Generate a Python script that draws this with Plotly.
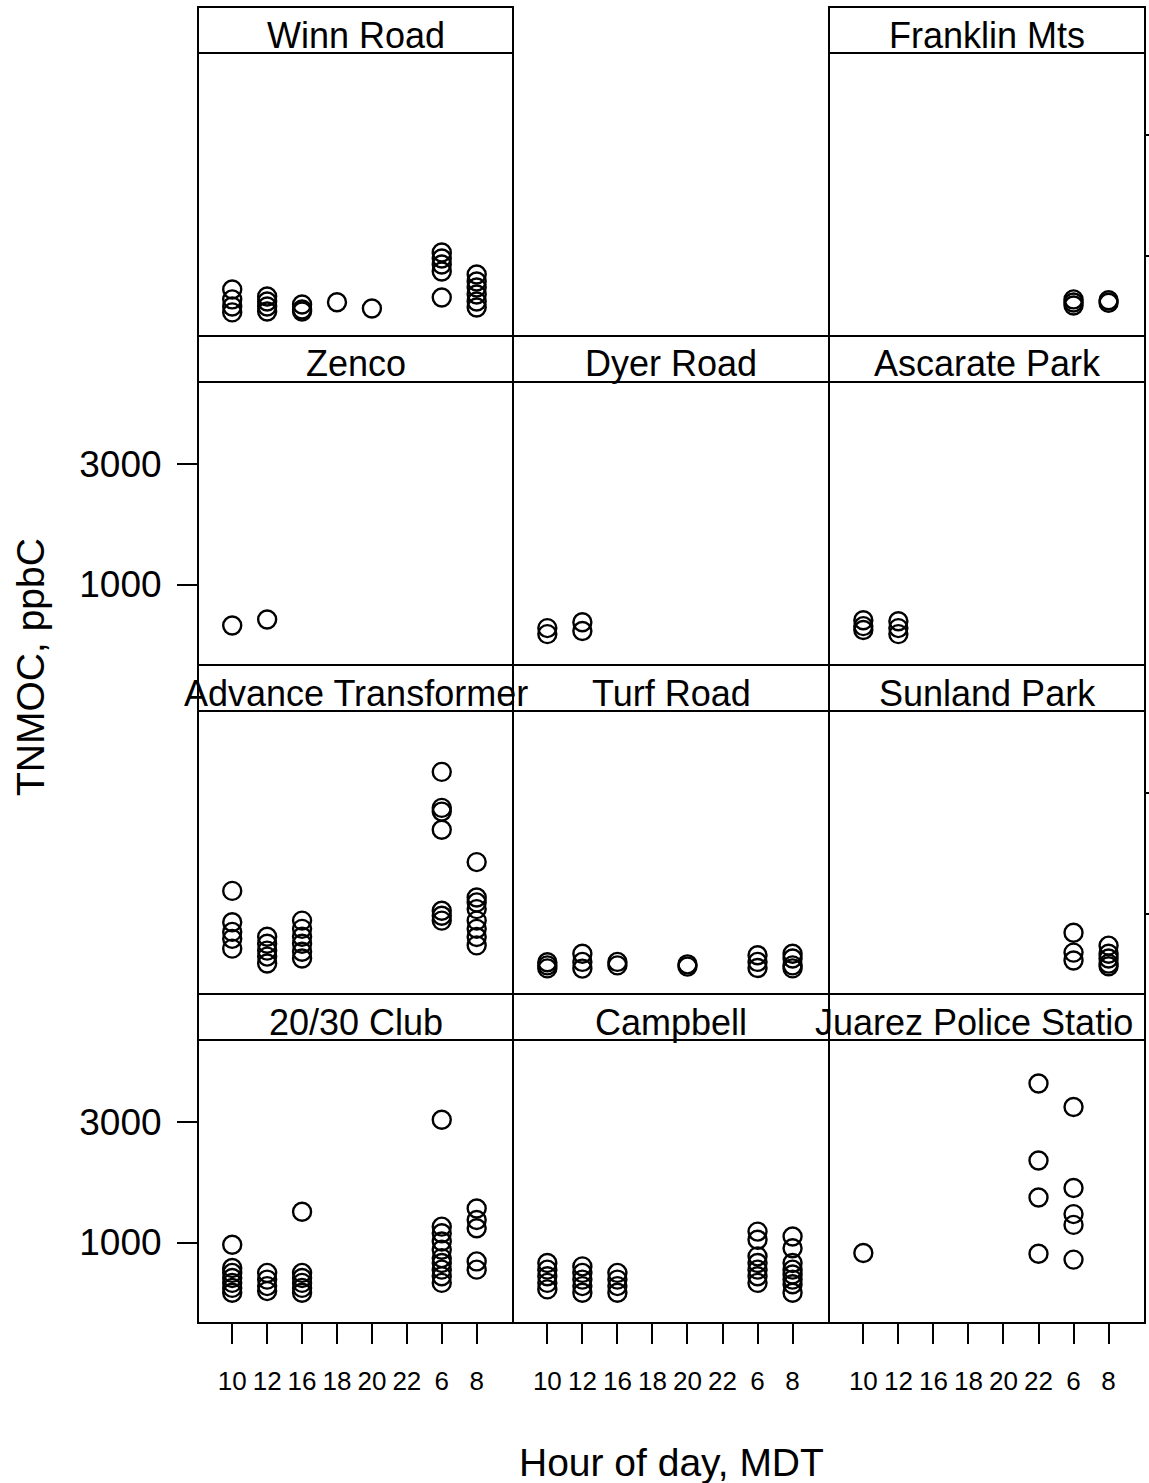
import math
import plotly.graph_objects as go

# Sampling hours (categorical, in run order) and y-axis ticks
HOURS = ["10", "12", "16", "18", "20", "22", "6", "8"]
Y_TICKS = [1000, 3000]

# TNMOC (ppbC) by hour of day for each site
winn_road = {"10": [733, 669, 627, 594], "12": [687, 656, 627, 599], "16": [639, 610, 599],
             "18": [652], "20": [616], "6": [1028, 973, 921, 864, 681],
             "8": [840, 788, 746, 700, 656, 621]}
franklin_mts = {"6": [669, 650, 633], "8": [664, 649]}
zenco = {"10": [687], "12": [726]}
dyer_road = {"10": [671, 635], "12": [708, 653]}
ascarate_park = {"10": [721, 683, 659], "12": [714, 671, 635]}
advance_transformer = {"10": [1230, 923, 845, 793, 725], "12": [808, 758, 712, 674, 633],
                       "16": [937, 869, 808, 758, 705, 662],
                       "6": [3656, 2630, 2542, 2153, 1026, 980, 937],
                       "8": [1601, 1158, 1107, 1041, 937, 869, 806, 747]}
turf_road = {"10": [640, 622, 605], "12": [692, 642, 604], "16": [642, 622], "20": [628, 615],
             "6": [682, 642, 607], "8": [692, 662, 622, 605]}
sunland_park = {"6": [838, 699, 650], "8": [745, 692, 662, 632, 617]}
club_20_30 = {"10": [979, 792, 757, 723, 691, 660, 631], "12": [757, 712, 671, 641],
              "16": [1325, 757, 723, 691, 660, 631],
              "6": [3074, 1156, 1088, 1009, 936, 867, 829, 780, 734, 691],
              "8": [1365, 1229, 1139, 841, 780]}
campbell = {"10": [829, 780, 734, 691, 651], "12": [804, 757, 712, 671, 631],
            "16": [757, 712, 671, 631], "6": [1105, 1025, 881, 829, 780, 734, 691],
            "8": [1056, 949, 829, 780, 746, 712, 682, 631]}
juarez_police_station = {"10": [908], "22": [4285, 2118, 1509, 902],
                         "6": [3458, 1648, 1297, 1175, 855]}

# (strip label, data, row, column) -- row 1 is the top row
PANELS = [
    ("Winn Road", winn_road, 1, 1),
    ("Franklin Mts", franklin_mts, 1, 3),
    ("Zenco", zenco, 2, 1),
    ("Dyer Road", dyer_road, 2, 2),
    ("Ascarate Park", ascarate_park, 2, 3),
    ("Advance Transformer", advance_transformer, 3, 1),
    ("Turf Road", turf_road, 3, 2),
    ("Sunland Park", sunland_park, 3, 3),
    ("20/30 Club", club_20_30, 4, 1),
    ("Campbell", campbell, 4, 2),
    ("Juarez Police Station", juarez_police_station, 4, 3),
]

# Page geometry (pixels)
W, H = 1149, 1483
COL_X = [(198, 513), (513, 829), (829, 1145)]
ROW_TOP = 7
ROW_PITCH = 329
STRIP_H = 46
FONT = "Liberation Sans, Arial, sans-serif"
Y_RANGE = [2.68, 3.805]          # log10 of roughly 480 .. 6400 ppbC
X_RANGE = [0.02, 9.04]


def fx(px):
    return px / W


def fy(py):
    return 1 - py / H


fig = go.Figure()
layout = {}
shapes = []
annotations = []

for i, (label, data, row, col) in enumerate(PANELS, start=1):
    x0, x1 = COL_X[col - 1]
    strip_top = ROW_TOP + (row - 1) * ROW_PITCH
    panel_top = strip_top + STRIP_H
    panel_bot = strip_top + ROW_PITCH

    xs, ys = [], []
    for h, vals in data.items():
        pos = HOURS.index(h) + 1
        for v in vals:
            xs.append(pos)
            ys.append(v)

    xname = "x" if i == 1 else f"x{i}"
    yname = "y" if i == 1 else f"y{i}"
    fig.add_trace(go.Scatter(
        x=xs, y=ys, mode="markers", xaxis=xname, yaxis=yname, showlegend=False,
        marker=dict(symbol="circle-open", size=18, color="black",
                    line=dict(width=2.4, color="black")),
    ))

    bottom_row = row == 4
    xa = dict(
        domain=[fx(x0), fx(x1)], anchor=yname, range=X_RANGE,
        tickmode="array", tickvals=list(range(1, len(HOURS) + 1)), ticktext=HOURS,
        showgrid=False, zeroline=False, showline=False,
        ticks="outside" if bottom_row else "", ticklen=20, tickwidth=1.5, tickcolor="black",
        showticklabels=bottom_row, ticklabelstandoff=15,
        tickfont=dict(family=FONT, size=26, color="black"),
    )
    left_ticks = col == 1 and row in (2, 4)
    right_ticks = col == 3 and row in (1, 3)
    ya = dict(
        domain=[fy(panel_bot), fy(panel_top)], anchor=xname, type="log", range=Y_RANGE,
        tickmode="array", tickvals=Y_TICKS, ticktext=[str(t) for t in Y_TICKS],
        showgrid=False, zeroline=False, showline=False,
        ticks="outside" if (left_ticks or right_ticks) else "",
        side="right" if right_ticks else "left",
        # right-hand ticks run into the page edge, so they stay short
        ticklen=3 if right_ticks else 20, tickwidth=1.5, tickcolor="black",
        showticklabels=left_ticks, ticklabelstandoff=8,
        tickfont=dict(family=FONT, size=37, color="black"),
    )
    layout["xaxis" if i == 1 else f"xaxis{i}"] = xa
    layout["yaxis" if i == 1 else f"yaxis{i}"] = ya

    # panel frame and strip box
    shapes.append(dict(type="rect", xref="paper", yref="paper",
                       x0=fx(x0), x1=fx(x1), y0=fy(panel_bot), y1=fy(panel_top),
                       line=dict(color="black", width=2)))
    shapes.append(dict(type="rect", xref="paper", yref="paper",
                       x0=fx(x0), x1=fx(x1), y0=fy(panel_top), y1=fy(strip_top),
                       line=dict(color="black", width=2), fillcolor="white"))

    strip_mid = strip_top + STRIP_H / 2 + 5
    if label == "Juarez Police Station":
        # the strip is too narrow for the full name; the tail is cut at the page edge
        annotations.append(dict(text="Juarez Police Statio", xref="paper", yref="paper",
                                x=fx(813), y=fy(strip_mid), xanchor="left", yanchor="middle",
                                showarrow=False, font=dict(family=FONT, size=36, color="black")))
    else:
        annotations.append(dict(text=label, xref="paper", yref="paper",
                                x=fx((x0 + x1) / 2), y=fy(strip_mid),
                                xanchor="center", yanchor="middle", showarrow=False,
                                font=dict(family=FONT, size=36, color="black")))

# axis titles
annotations.append(dict(text="Hour of day, MDT", xref="paper", yref="paper",
                        x=fx(671), y=fy(1462), xanchor="center", yanchor="middle",
                        showarrow=False, font=dict(family=FONT, size=39, color="black")))
annotations.append(dict(text="TNMOC, ppbC", xref="paper", yref="paper",
                        x=fx(30), y=fy(667), xanchor="center", yanchor="middle",
                        textangle=-90, showarrow=False,
                        font=dict(family=FONT, size=39, color="black")))

fig.update_layout(
    width=W, height=H, autosize=False,
    margin=dict(l=0, r=0, t=0, b=0),
    paper_bgcolor="white", plot_bgcolor="white",
    shapes=shapes, annotations=annotations,
    **layout,
)

fig.write_html("out.html")
